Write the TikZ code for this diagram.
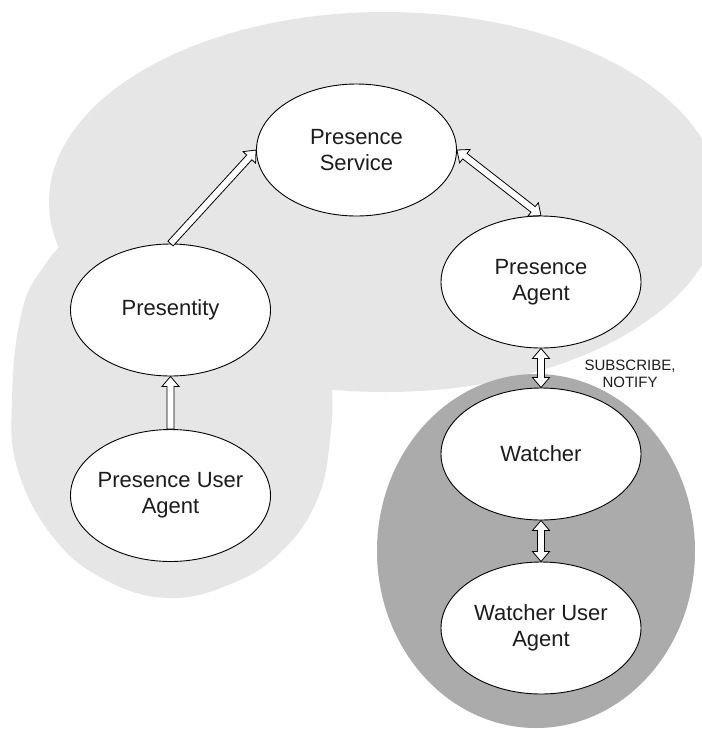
\documentclass[tikz,border=0pt]{standalone}
\usepackage{fontspec}
\setmainfont{Liberation Sans}
\usetikzlibrary{calc,shapes.geometric}

\definecolor{cloudlight}{HTML}{E6E6E6}
\definecolor{clouddark}{HTML}{ABABAB}
\definecolor{inkgrey}{HTML}{1C1C1C}

% Hollow block arrow with a head at the second end
\newcommand{\onewayarrow}[2]{%
  \coordinate (bh) at ($(#2)!10pt!(#1)$);
  \draw[arrowbody] ($(#1)!3.5pt!90:(#2)$) -- ($(bh)!3.5pt!90:(#2)$)
    -- ($(bh)!8.5pt!90:(#2)$) -- (#2) -- ($(bh)!8.5pt!-90:(#2)$)
    -- ($(bh)!3.5pt!-90:(#2)$) -- ($(#1)!3.5pt!-90:(#2)$) -- cycle;}

% Hollow block arrow with heads at both ends
\newcommand{\twowayarrow}[2]{%
  \coordinate (ah) at ($(#1)!10pt!(#2)$);
  \coordinate (bh) at ($(#2)!10pt!(#1)$);
  \draw[arrowbody] (#1) -- ($(ah)!8.5pt!90:(#2)$) -- ($(ah)!3.5pt!90:(#2)$)
    -- ($(bh)!3.5pt!90:(#2)$) -- ($(bh)!8.5pt!90:(#2)$) -- (#2)
    -- ($(bh)!8.5pt!-90:(#2)$) -- ($(bh)!3.5pt!-90:(#2)$)
    -- ($(ah)!3.5pt!-90:(#2)$) -- ($(ah)!8.5pt!-90:(#2)$) -- cycle;}

\begin{document}
\begin{tikzpicture}[x=1pt,y=-1pt,
  bubble/.style={ellipse, draw=black, line width=0.9pt, fill=white,
    minimum width=200pt, minimum height=132pt, inner sep=0pt, inner xsep=-4pt,
    align=center, text=inkgrey, font=\fontsize{22}{26}\selectfont},
  arrowbody/.style={draw=black, line width=0.8pt, fill=white, line join=miter},
  note/.style={align=center, inner sep=0pt, text=inkgrey,
    font=\fontsize{15}{16.5}\selectfont}]

\useasboundingbox (0,0) rectangle (702,729);
\fill[white] (0,0) rectangle (702,729);

% shaded domains
\begin{scope}
  \clip (0,0) rectangle (702,729);
  \fill[cloudlight] (385,202) ellipse [x radius=336pt, y radius=190pt];
  \fill[cloudlight] plot[smooth cycle, tension=0.7] coordinates {
    (12,400) (17,467) (50,533) (100,577) (167,598) (233,583) (283,550)
    (317,500) (330,440) (331,380) (318,318) (250,262) (150,236) (80,235)
    (40,272) (20,320)};
  \fill[clouddark] (536,551) ellipse [x radius=159pt, y radius=177pt];
\end{scope}

% entities
\node[bubble] (ps) at (356.5,150) {Presence\\Service};
\node[bubble] (presentity) at (170.5,310) {Presentity};
\node[bubble] (pua) at (170.5,495.5) {Presence User\\Agent};
\node[bubble] (pa) at (541,282) {Presence\\Agent};
\node[bubble] (watcher) at (541,454) {Watcher};
\node[bubble] (wua) at (541,628) {Watcher User\\Agent};

\node[note] (subnotify) at (630,374) {SUBSCRIBE,\\NOTIFY};

% connectors
\onewayarrow{presentity.north}{ps.west}
\twowayarrow{ps.east}{pa.north}
\twowayarrow{pa.south}{watcher.north}
\twowayarrow{watcher.south}{wua.north}
\onewayarrow{pua.north}{presentity.south}

\end{tikzpicture}
\end{document}
